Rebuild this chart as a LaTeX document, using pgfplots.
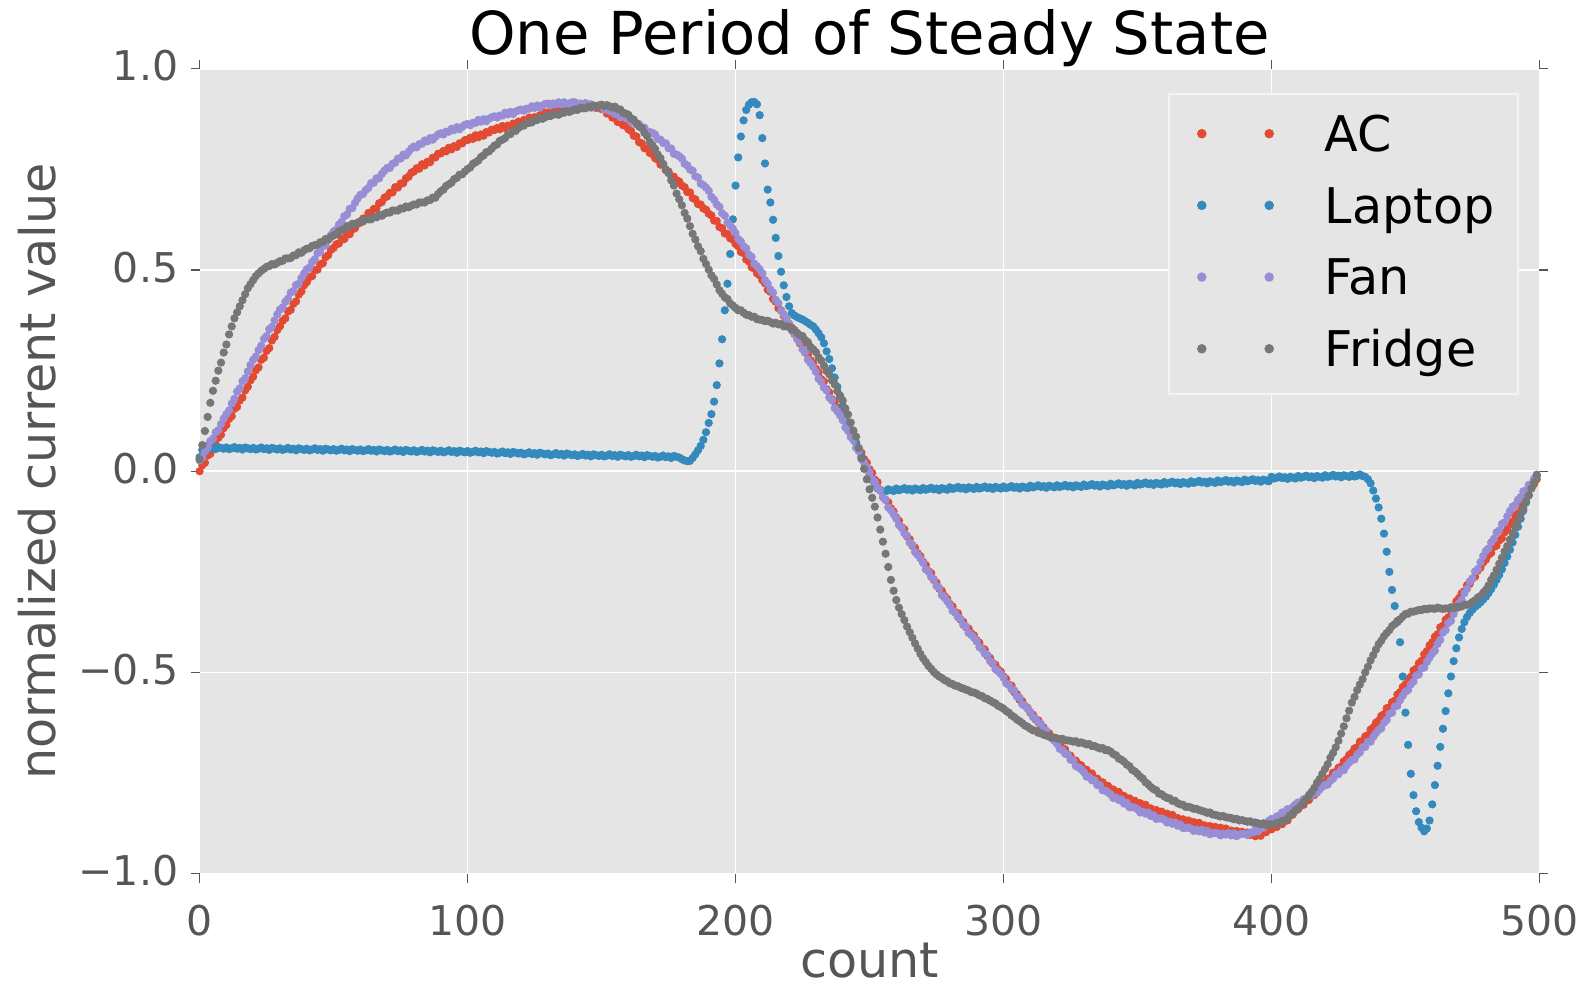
\documentclass[border=0pt]{standalone}
\usepackage{pgfplots}
\usepackage{pgfplotstable}
\usepackage{fontspec}
\setmainfont{DejaVu Sans}
\pgfplotsset{compat=1.18}

\definecolor{panel}{HTML}{E5E5E5}
\definecolor{acred}{HTML}{E24A33}
\definecolor{lapblue}{HTML}{348ABD}
\definecolor{fanpurple}{HTML}{988ED5}
\definecolor{fridgegray}{HTML}{777777}
\definecolor{ink}{HTML}{555555}

% one period of the normalized current of each appliance, one row per sample
\pgfplotstableread{
n ac lap fan fri
0 0.000 0.035 0.027 0.030
1 0.015 0.053 0.034 0.065
2 0.021 0.061 0.049 0.100
3 0.039 0.063 0.059 0.135
4 0.043 0.057 0.075 0.170
5 0.059 0.059 0.081 0.200
6 0.065 0.055 0.097 0.225
7 0.083 0.060 0.102 0.250
8 0.091 0.058 0.117 0.270
9 0.107 0.056 0.131 0.295
10 0.115 0.059 0.142 0.315
11 0.130 0.055 0.151 0.340
12 0.137 0.057 0.168 0.360
13 0.155 0.060 0.180 0.380
14 0.160 0.056 0.198 0.395
15 0.176 0.058 0.206 0.410
16 0.183 0.054 0.224 0.425
17 0.201 0.059 0.231 0.440
18 0.210 0.057 0.248 0.455
19 0.226 0.055 0.264 0.465
20 0.235 0.058 0.277 0.475
21 0.251 0.054 0.285 0.485
22 0.258 0.056 0.301 0.492
23 0.277 0.059 0.312 0.498
24 0.282 0.055 0.329 0.503
25 0.299 0.057 0.336 0.508
26 0.306 0.053 0.353 0.510
27 0.325 0.058 0.359 0.515
28 0.334 0.056 0.375 0.514
29 0.351 0.054 0.390 0.518
30 0.360 0.057 0.402 0.522
31 0.374 0.053 0.407 0.523
32 0.380 0.055 0.421 0.529
33 0.397 0.058 0.429 0.529
34 0.401 0.054 0.444 0.530
35 0.416 0.056 0.448 0.536
36 0.422 0.052 0.463 0.537
37 0.439 0.057 0.466 0.544
38 0.447 0.055 0.480 0.543
39 0.462 0.053 0.492 0.549
40 0.470 0.056 0.502 0.553
41 0.482 0.052 0.506 0.554
42 0.485 0.054 0.520 0.560
43 0.500 0.057 0.527 0.562
44 0.501 0.053 0.542 0.563
45 0.514 0.055 0.545 0.569
46 0.517 0.051 0.559 0.570
47 0.532 0.056 0.562 0.577
48 0.537 0.054 0.575 0.576
49 0.550 0.052 0.587 0.582
50 0.555 0.055 0.596 0.586
51 0.564 0.051 0.600 0.589
52 0.566 0.053 0.613 0.596
53 0.578 0.056 0.620 0.599
54 0.577 0.052 0.634 0.601
55 0.588 0.054 0.638 0.609
56 0.589 0.050 0.652 0.609
57 0.601 0.055 0.654 0.615
58 0.604 0.053 0.667 0.613
59 0.615 0.051 0.678 0.618
60 0.618 0.054 0.687 0.621
61 0.628 0.050 0.689 0.621
62 0.629 0.052 0.699 0.626
63 0.642 0.055 0.704 0.626
64 0.641 0.051 0.716 0.626
65 0.652 0.053 0.717 0.631
66 0.653 0.049 0.728 0.631
67 0.666 0.054 0.728 0.637
68 0.669 0.052 0.739 0.635
69 0.680 0.050 0.747 0.640
70 0.683 0.053 0.754 0.643
71 0.692 0.049 0.754 0.643
72 0.693 0.051 0.764 0.648
73 0.706 0.054 0.767 0.648
74 0.705 0.050 0.777 0.648
75 0.715 0.052 0.777 0.653
76 0.716 0.048 0.787 0.653
77 0.728 0.053 0.785 0.658
78 0.732 0.051 0.794 0.656
79 0.742 0.049 0.802 0.660
80 0.745 0.052 0.807 0.663
81 0.753 0.048 0.805 0.663
82 0.752 0.050 0.813 0.668
83 0.763 0.053 0.814 0.668
84 0.760 0.049 0.822 0.668
85 0.769 0.051 0.820 0.673
86 0.768 0.047 0.828 0.674
87 0.779 0.052 0.824 0.680
88 0.780 0.050 0.831 0.680
89 0.789 0.048 0.837 0.689
90 0.790 0.051 0.840 0.696
91 0.796 0.047 0.837 0.700
92 0.795 0.049 0.844 0.709
93 0.804 0.052 0.844 0.713
94 0.800 0.048 0.851 0.717
95 0.808 0.050 0.848 0.726
96 0.806 0.046 0.855 0.729
97 0.815 0.051 0.850 0.737
98 0.815 0.049 0.856 0.738
99 0.823 0.047 0.861 0.745
100 0.823 0.050 0.863 0.751
101 0.829 0.046 0.860 0.755
102 0.826 0.048 0.866 0.764
103 0.835 0.051 0.866 0.768
104 0.830 0.047 0.873 0.772
105 0.837 0.049 0.869 0.781
106 0.834 0.045 0.875 0.785
107 0.843 0.050 0.870 0.793
108 0.842 0.048 0.876 0.795
109 0.849 0.046 0.880 0.802
110 0.848 0.048 0.882 0.809
111 0.853 0.044 0.879 0.812
112 0.850 0.046 0.884 0.821
113 0.858 0.049 0.884 0.824
114 0.853 0.045 0.891 0.828
115 0.859 0.047 0.887 0.836
116 0.856 0.043 0.893 0.838
117 0.864 0.048 0.888 0.846
118 0.863 0.046 0.894 0.846
119 0.869 0.044 0.897 0.853
120 0.868 0.046 0.899 0.858
121 0.873 0.042 0.896 0.859
122 0.870 0.044 0.901 0.865
123 0.879 0.047 0.901 0.866
124 0.874 0.043 0.907 0.867
125 0.880 0.045 0.903 0.873
126 0.877 0.041 0.909 0.873
127 0.885 0.046 0.904 0.878
128 0.885 0.044 0.909 0.876
129 0.891 0.042 0.913 0.880
130 0.890 0.044 0.914 0.883
131 0.895 0.040 0.909 0.883
132 0.891 0.042 0.914 0.887
133 0.899 0.045 0.912 0.887
134 0.893 0.041 0.917 0.886
135 0.899 0.043 0.912 0.891
136 0.895 0.039 0.917 0.891
137 0.903 0.044 0.910 0.895
138 0.901 0.042 0.914 0.893
139 0.907 0.040 0.917 0.896
140 0.905 0.042 0.917 0.899
141 0.909 0.038 0.911 0.898
142 0.905 0.040 0.914 0.903
143 0.912 0.043 0.911 0.902
144 0.906 0.039 0.915 0.902
145 0.911 0.041 0.908 0.906
146 0.904 0.037 0.912 0.905
147 0.908 0.042 0.904 0.909
148 0.903 0.040 0.907 0.906
149 0.905 0.038 0.908 0.909
150 0.900 0.041 0.907 0.911
151 0.899 0.037 0.899 0.908
152 0.889 0.039 0.900 0.910
153 0.891 0.042 0.895 0.907
154 0.879 0.038 0.897 0.904
155 0.879 0.040 0.888 0.906
156 0.868 0.036 0.890 0.900
157 0.869 0.041 0.880 0.899
158 0.860 0.039 0.881 0.891
159 0.859 0.037 0.880 0.889
160 0.850 0.040 0.877 0.886
161 0.846 0.036 0.868 0.877
162 0.834 0.038 0.868 0.874
163 0.832 0.041 0.862 0.865
164 0.818 0.037 0.863 0.857
165 0.815 0.039 0.853 0.853
166 0.803 0.035 0.854 0.841
167 0.802 0.040 0.843 0.833
168 0.791 0.038 0.843 0.819
169 0.788 0.036 0.841 0.810
170 0.778 0.038 0.837 0.801
171 0.774 0.034 0.826 0.787
172 0.762 0.036 0.824 0.778
173 0.762 0.039 0.816 0.764
174 0.748 0.035 0.815 0.750
175 0.745 0.037 0.803 0.741
176 0.733 0.033 0.802 0.723
177 0.732 0.038 0.789 0.710
178 0.723 0.036 0.787 0.690
179 0.720 0.034 0.783 0.676
180 0.710 0.030 0.777 0.661
181 0.706 0.027 0.764 0.642
182 0.694 0.025 0.760 0.628
183 0.693 0.026 0.750 0.609
184 0.679 0.033 0.747 0.590
185 0.676 0.042 0.733 0.576
186 0.664 0.052 0.730 0.559
187 0.663 0.063 0.715 0.547
188 0.653 0.078 0.711 0.528
189 0.650 0.097 0.705 0.515
190 0.640 0.120 0.697 0.501
191 0.636 0.142 0.682 0.487
192 0.623 0.173 0.675 0.478
193 0.622 0.214 0.663 0.464
194 0.607 0.268 0.657 0.450
195 0.604 0.328 0.641 0.441
196 0.591 0.400 0.635 0.432
197 0.590 0.466 0.618 0.428
198 0.579 0.540 0.611 0.417
199 0.576 0.626 0.603 0.412
200 0.565 0.710 0.592 0.406
201 0.559 0.780 0.577 0.400
202 0.545 0.832 0.571 0.400
203 0.542 0.872 0.559 0.394
204 0.526 0.898 0.554 0.389
205 0.521 0.911 0.538 0.388
206 0.507 0.917 0.533 0.384
207 0.504 0.918 0.516 0.384
208 0.492 0.912 0.510 0.378
209 0.487 0.885 0.502 0.377
210 0.475 0.828 0.492 0.376
211 0.467 0.765 0.475 0.373
212 0.451 0.700 0.466 0.374
213 0.446 0.668 0.452 0.371
214 0.428 0.625 0.444 0.367
215 0.421 0.580 0.426 0.369
216 0.405 0.535 0.418 0.365
217 0.400 0.496 0.399 0.366
218 0.386 0.462 0.390 0.360
219 0.379 0.433 0.380 0.360
220 0.365 0.410 0.367 0.359
221 0.357 0.393 0.350 0.352
222 0.341 0.387 0.342 0.351
223 0.336 0.383 0.328 0.344
224 0.318 0.380 0.321 0.338
225 0.311 0.377 0.303 0.336
226 0.295 0.373 0.296 0.326
227 0.290 0.369 0.277 0.321
228 0.276 0.364 0.269 0.309
229 0.269 0.360 0.259 0.303
230 0.255 0.352 0.247 0.296
231 0.246 0.343 0.230 0.283
232 0.229 0.333 0.222 0.275
233 0.223 0.318 0.208 0.262
234 0.204 0.298 0.201 0.249
235 0.196 0.279 0.183 0.241
236 0.179 0.256 0.176 0.226
237 0.173 0.233 0.157 0.216
238 0.158 0.210 0.149 0.199
239 0.150 0.186 0.139 0.188
240 0.135 0.163 0.127 0.176
241 0.125 0.143 0.109 0.156
242 0.107 0.122 0.100 0.141
243 0.100 0.103 0.085 0.121
244 0.080 0.085 0.077 0.101
245 0.071 0.070 0.058 0.086
246 0.053 0.053 0.050 0.058
247 0.046 0.037 0.030 0.032
248 0.030 0.022 0.021 0.006
249 0.021 0.007 0.010 -0.020
250 0.005 -0.008 -0.003 -0.045
251 -0.004 -0.022 -0.020 -0.066
252 -0.021 -0.034 -0.027 -0.088
253 -0.027 -0.043 -0.041 -0.115
254 -0.046 -0.048 -0.047 -0.145
255 -0.054 -0.050 -0.065 -0.175
256 -0.071 -0.050 -0.071 -0.205
257 -0.077 -0.045 -0.090 -0.238
258 -0.092 -0.047 -0.097 -0.270
259 -0.100 -0.049 -0.107 -0.297
260 -0.115 -0.043 -0.118 -0.320
261 -0.123 -0.047 -0.134 -0.339
262 -0.139 -0.045 -0.141 -0.355
263 -0.144 -0.042 -0.154 -0.370
264 -0.162 -0.046 -0.160 -0.386
265 -0.169 -0.044 -0.177 -0.400
266 -0.185 -0.048 -0.183 -0.414
267 -0.190 -0.043 -0.201 -0.428
268 -0.204 -0.045 -0.208 -0.441
269 -0.211 -0.047 -0.217 -0.454
270 -0.225 -0.042 -0.228 -0.465
271 -0.233 -0.046 -0.244 -0.474
272 -0.248 -0.044 -0.250 -0.484
273 -0.253 -0.041 -0.263 -0.491
274 -0.270 -0.045 -0.268 -0.499
275 -0.277 -0.043 -0.285 -0.505
276 -0.292 -0.047 -0.290 -0.510
277 -0.297 -0.042 -0.308 -0.514
278 -0.310 -0.044 -0.314 -0.519
279 -0.317 -0.046 -0.323 -0.522
280 -0.330 -0.040 -0.333 -0.527
281 -0.336 -0.044 -0.347 -0.529
282 -0.350 -0.042 -0.352 -0.533
283 -0.353 -0.039 -0.363 -0.534
284 -0.369 -0.043 -0.367 -0.538
285 -0.374 -0.041 -0.382 -0.540
286 -0.388 -0.045 -0.386 -0.543
287 -0.391 -0.040 -0.402 -0.545
288 -0.403 -0.042 -0.407 -0.549
289 -0.408 -0.044 -0.414 -0.550
290 -0.420 -0.039 -0.423 -0.553
291 -0.426 -0.043 -0.437 -0.557
292 -0.440 -0.041 -0.442 -0.559
293 -0.443 -0.038 -0.453 -0.564
294 -0.459 -0.042 -0.457 -0.566
295 -0.464 -0.040 -0.472 -0.570
296 -0.478 -0.044 -0.476 -0.574
297 -0.481 -0.039 -0.492 -0.577
298 -0.493 -0.041 -0.497 -0.583
299 -0.498 -0.043 -0.504 -0.586
300 -0.510 -0.038 -0.513 -0.590
301 -0.516 -0.042 -0.527 -0.596
302 -0.530 -0.040 -0.531 -0.600
303 -0.533 -0.037 -0.542 -0.607
304 -0.549 -0.041 -0.545 -0.611
305 -0.554 -0.039 -0.560 -0.617
306 -0.568 -0.043 -0.563 -0.621
307 -0.571 -0.038 -0.579 -0.626
308 -0.583 -0.040 -0.583 -0.632
309 -0.588 -0.042 -0.590 -0.635
310 -0.600 -0.036 -0.598 -0.640
311 -0.605 -0.040 -0.611 -0.644
312 -0.617 -0.038 -0.615 -0.645
313 -0.619 -0.035 -0.625 -0.650
314 -0.633 -0.039 -0.628 -0.651
315 -0.637 -0.037 -0.642 -0.655
316 -0.649 -0.041 -0.645 -0.657
317 -0.651 -0.036 -0.660 -0.658
318 -0.661 -0.038 -0.664 -0.662
319 -0.665 -0.040 -0.670 -0.662
320 -0.675 -0.035 -0.678 -0.664
321 -0.679 -0.039 -0.690 -0.666
322 -0.690 -0.037 -0.693 -0.665
323 -0.691 -0.034 -0.702 -0.669
324 -0.704 -0.038 -0.704 -0.669
325 -0.707 -0.036 -0.717 -0.670
326 -0.718 -0.040 -0.719 -0.672
327 -0.719 -0.035 -0.733 -0.671
328 -0.728 -0.037 -0.736 -0.675
329 -0.731 -0.039 -0.741 -0.674
330 -0.740 -0.033 -0.748 -0.676
331 -0.742 -0.037 -0.759 -0.679
332 -0.752 -0.035 -0.760 -0.678
333 -0.751 -0.032 -0.768 -0.683
334 -0.763 -0.036 -0.768 -0.683
335 -0.764 -0.034 -0.780 -0.686
336 -0.774 -0.038 -0.780 -0.689
337 -0.773 -0.033 -0.793 -0.688
338 -0.781 -0.035 -0.794 -0.693
339 -0.782 -0.037 -0.798 -0.693
340 -0.790 -0.031 -0.803 -0.697
341 -0.791 -0.035 -0.812 -0.703
342 -0.799 -0.033 -0.811 -0.706
343 -0.797 -0.030 -0.817 -0.714
344 -0.807 -0.034 -0.816 -0.717
345 -0.807 -0.032 -0.826 -0.722
346 -0.815 -0.036 -0.824 -0.729
347 -0.813 -0.031 -0.835 -0.733
348 -0.819 -0.033 -0.835 -0.742
349 -0.819 -0.035 -0.836 -0.746
350 -0.825 -0.029 -0.840 -0.752
351 -0.825 -0.033 -0.848 -0.759
352 -0.832 -0.031 -0.846 -0.764
353 -0.829 -0.028 -0.851 -0.773
354 -0.839 -0.032 -0.848 -0.778
355 -0.838 -0.030 -0.857 -0.785
356 -0.845 -0.034 -0.855 -0.790
357 -0.842 -0.029 -0.864 -0.793
358 -0.848 -0.031 -0.863 -0.801
359 -0.846 -0.033 -0.863 -0.803
360 -0.852 -0.027 -0.866 -0.808
361 -0.851 -0.031 -0.873 -0.812
362 -0.858 -0.029 -0.871 -0.813
363 -0.854 -0.026 -0.876 -0.819
364 -0.863 -0.030 -0.873 -0.819
365 -0.862 -0.028 -0.881 -0.825
366 -0.869 -0.032 -0.878 -0.828
367 -0.865 -0.027 -0.887 -0.829
368 -0.870 -0.029 -0.886 -0.834
369 -0.868 -0.031 -0.886 -0.834
370 -0.873 -0.025 -0.888 -0.836
371 -0.872 -0.029 -0.894 -0.839
372 -0.878 -0.027 -0.891 -0.839
373 -0.874 -0.024 -0.895 -0.842
374 -0.882 -0.028 -0.891 -0.844
375 -0.880 -0.026 -0.898 -0.846
376 -0.886 -0.030 -0.894 -0.849
377 -0.882 -0.025 -0.902 -0.848
378 -0.886 -0.027 -0.900 -0.853
379 -0.884 -0.029 -0.899 -0.854
380 -0.888 -0.023 -0.900 -0.856
381 -0.886 -0.027 -0.905 -0.858
382 -0.892 -0.025 -0.901 -0.857
383 -0.888 -0.022 -0.903 -0.860
384 -0.896 -0.026 -0.899 -0.861
385 -0.893 -0.024 -0.905 -0.862
386 -0.899 -0.028 -0.900 -0.865
387 -0.894 -0.023 -0.907 -0.864
388 -0.899 -0.025 -0.903 -0.868
389 -0.896 -0.027 -0.901 -0.867
390 -0.900 -0.021 -0.901 -0.869
391 -0.898 -0.025 -0.904 -0.871
392 -0.904 -0.023 -0.898 -0.870
393 -0.899 -0.020 -0.898 -0.873
394 -0.907 -0.024 -0.891 -0.873
395 -0.904 -0.022 -0.895 -0.875
396 -0.906 -0.026 -0.885 -0.877
397 -0.897 -0.021 -0.886 -0.875
398 -0.897 -0.023 -0.877 -0.879
399 -0.890 -0.025 -0.869 -0.877
400 -0.890 -0.014 -0.864 -0.878
401 -0.883 -0.018 -0.865 -0.878
402 -0.884 -0.016 -0.858 -0.874
403 -0.874 -0.013 -0.856 -0.874
404 -0.877 -0.017 -0.848 -0.869
405 -0.869 -0.015 -0.850 -0.868
406 -0.868 -0.019 -0.840 -0.863
407 -0.856 -0.014 -0.843 -0.855
408 -0.853 -0.016 -0.834 -0.850
409 -0.843 -0.018 -0.828 -0.842
410 -0.840 -0.012 -0.823 -0.838
411 -0.831 -0.016 -0.824 -0.831
412 -0.829 -0.014 -0.815 -0.822
413 -0.817 -0.011 -0.813 -0.815
414 -0.817 -0.015 -0.804 -0.806
415 -0.807 -0.013 -0.806 -0.797
416 -0.805 -0.017 -0.796 -0.787
417 -0.793 -0.012 -0.799 -0.774
418 -0.789 -0.014 -0.791 -0.765
419 -0.779 -0.016 -0.784 -0.752
420 -0.775 -0.010 -0.780 -0.740
421 -0.765 -0.014 -0.779 -0.728
422 -0.762 -0.012 -0.769 -0.712
423 -0.749 -0.009 -0.764 -0.700
424 -0.748 -0.013 -0.753 -0.686
425 -0.737 -0.011 -0.753 -0.670
426 -0.734 -0.015 -0.742 -0.652
427 -0.721 -0.010 -0.743 -0.634
428 -0.716 -0.012 -0.732 -0.614
429 -0.705 -0.014 -0.724 -0.595
430 -0.700 -0.009 -0.718 -0.575
431 -0.689 -0.013 -0.716 -0.561
432 -0.686 -0.011 -0.704 -0.544
433 -0.672 -0.008 -0.699 -0.530
434 -0.671 -0.012 -0.686 -0.517
435 -0.659 -0.014 -0.685 -0.500
436 -0.656 -0.020 -0.672 -0.486
437 -0.642 -0.030 -0.672 -0.470
438 -0.637 -0.048 -0.660 -0.457
439 -0.625 -0.068 -0.651 -0.443
440 -0.620 -0.090 -0.643 -0.430
441 -0.608 -0.118 -0.639 -0.421
442 -0.604 -0.155 -0.625 -0.410
443 -0.589 -0.200 -0.618 -0.402
444 -0.587 -0.250 -0.603 -0.395
445 -0.574 -0.295 -0.600 -0.385
446 -0.570 -0.335 -0.585 -0.380
447 -0.555 -0.375 -0.583 -0.372
448 -0.549 -0.425 -0.569 -0.368
449 -0.536 -0.510 -0.558 -0.361
450 -0.530 -0.600 -0.548 -0.355
451 -0.517 -0.680 -0.544 -0.354
452 -0.511 -0.752 -0.530 -0.349
453 -0.495 -0.805 -0.523 -0.349
454 -0.491 -0.845 -0.508 -0.347
455 -0.477 -0.872 -0.505 -0.345
456 -0.471 -0.886 -0.490 -0.345
457 -0.455 -0.895 -0.488 -0.342
458 -0.447 -0.888 -0.474 -0.343
459 -0.433 -0.868 -0.463 -0.341
460 -0.425 -0.828 -0.453 -0.341
461 -0.411 -0.780 -0.446 -0.342
462 -0.405 -0.732 -0.429 -0.339
463 -0.388 -0.685 -0.419 -0.341
464 -0.384 -0.640 -0.401 -0.342
465 -0.369 -0.596 -0.395 -0.341
466 -0.363 -0.552 -0.377 -0.341
467 -0.346 -0.510 -0.372 -0.338
468 -0.338 -0.472 -0.355 -0.340
469 -0.323 -0.440 -0.341 -0.338
470 -0.315 -0.413 -0.328 -0.337
471 -0.303 -0.392 -0.320 -0.336
472 -0.298 -0.375 -0.303 -0.332
473 -0.283 -0.362 -0.292 -0.332
474 -0.280 -0.352 -0.274 -0.330
475 -0.267 -0.344 -0.267 -0.325
476 -0.262 -0.337 -0.249 -0.321
477 -0.247 -0.332 -0.243 -0.314
478 -0.240 -0.326 -0.226 -0.310
479 -0.227 -0.319 -0.211 -0.302
480 -0.220 -0.312 -0.198 -0.295
481 -0.208 -0.303 -0.192 -0.284
482 -0.203 -0.293 -0.177 -0.270
483 -0.188 -0.282 -0.168 -0.259
484 -0.185 -0.270 -0.152 -0.245
485 -0.172 -0.258 -0.147 -0.230
486 -0.167 -0.244 -0.131 -0.215
487 -0.152 -0.228 -0.127 -0.199
488 -0.145 -0.212 -0.112 -0.186
489 -0.132 -0.195 -0.099 -0.170
490 -0.125 -0.177 -0.088 -0.155
491 -0.110 -0.158 -0.084 -0.140
492 -0.104 -0.138 -0.071 -0.123
493 -0.086 -0.118 -0.064 -0.107
494 -0.081 -0.098 -0.050 -0.092
495 -0.066 -0.078 -0.048 -0.075
496 -0.059 -0.060 -0.034 -0.060
497 -0.041 -0.042 -0.032 -0.043
498 -0.032 -0.026 -0.019 -0.028
499 -0.020 -0.012 -0.008 -0.010
}\steady

\newcommand{\tickfont}{\fontsize{20.5}{24}\selectfont}
\newcommand{\labelfont}{\fontsize{24.6}{29}\selectfont}
\newcommand{\titlefont}{\fontsize{29.6}{35}\selectfont}

\begin{document}
\begin{tikzpicture}
\begin{axis}[
  name=ax,
  at={(0pt,0pt)}, anchor=south west,
  scale only axis,
  width=669.9pt, height=402.35pt,
  xmin=0, xmax=500, ymin=-1, ymax=1,
  xtick={0,100,200,300,400,500},
  xticklabels={0,100,200,300,400,500},
  ytick={-1,-0.5,0,0.5,1},
  yticklabels={−1.0,−0.5,0.0,0.5,1.0},
  axis background/.style={fill=panel},
  axis line style={draw=none},
  grid=major,
  major grid style={draw=white, line width=0.9pt},
  tick align=outside,
  major tick length=4.5pt,
  tick style={draw=ink, line width=0.6pt},
  xticklabel style={anchor=base, yshift=-26.5pt, inner sep=0pt, font=\tickfont, text=ink},
  yticklabel style={anchor=base east, xshift=-6pt, yshift=-6pt, inner sep=0pt, font=\tickfont, text=ink},
  title={One Period of Steady State},
  every axis title/.style={at={(axis description cs:0.5,1)}, anchor=base, yshift=6.95pt,
    inner sep=0pt, font=\titlefont, text=black},
  xlabel={count},
  ylabel={normalized current value},
  every axis x label/.style={at={(axis description cs:0.5,0)}, anchor=base, yshift=-52pt,
    inner sep=0pt, font=\labelfont, text=ink},
  every axis y label/.style={at={(axis description cs:-0.1077,0.5)}, rotate=90, anchor=base,
    inner sep=0pt, font=\labelfont, text=ink},
  legend cell align=left,
  legend image code/.code={
    \path[draw=none, fill=none] (-4.3pt,-14.5pt) rectangle (35.6pt,2pt);
    \path[#1, draw=none] plot[only marks, mark repeat=1] coordinates {(0pt,0pt) (33.7pt,0pt)};
  },
  legend style={
    at={(axis description cs:1,1)}, anchor=north east,
    xshift=-10pt, yshift=-12.15pt,
    fill=panel, draw=white!55!panel, line width=1pt,
    inner xsep=12pt, inner ysep=8.2pt,
    row sep=9.8pt, column sep=26pt,
    font=\labelfont,
    nodes={inner sep=0pt, text height=20.5pt, text depth=2.6pt, text=black},
  },
  only marks,
  every axis plot/.append style={mark=*, mark size=1.85pt},
]
\addplot[color=acred, mark options={draw=none, fill=acred}] table[x=n, y=ac]{\steady};
\addlegendentry{AC}
\addplot[color=lapblue, mark options={draw=none, fill=lapblue}] table[x=n, y=lap]{\steady};
\addlegendentry{Laptop}
\addplot[color=fanpurple, mark options={draw=none, fill=fanpurple}] table[x=n, y=fan]{\steady};
\addlegendentry{Fan}
\addplot[color=fridgegray, mark options={draw=none, fill=fridgegray}] table[x=n, y=fri]{\steady};
\addlegendentry{Fridge}
\end{axis}
\pgfresetboundingbox
\path[use as bounding box] (-99.8pt,-58.2pt) rectangle (694.7pt,436.8pt);
\end{tikzpicture}
\end{document}
